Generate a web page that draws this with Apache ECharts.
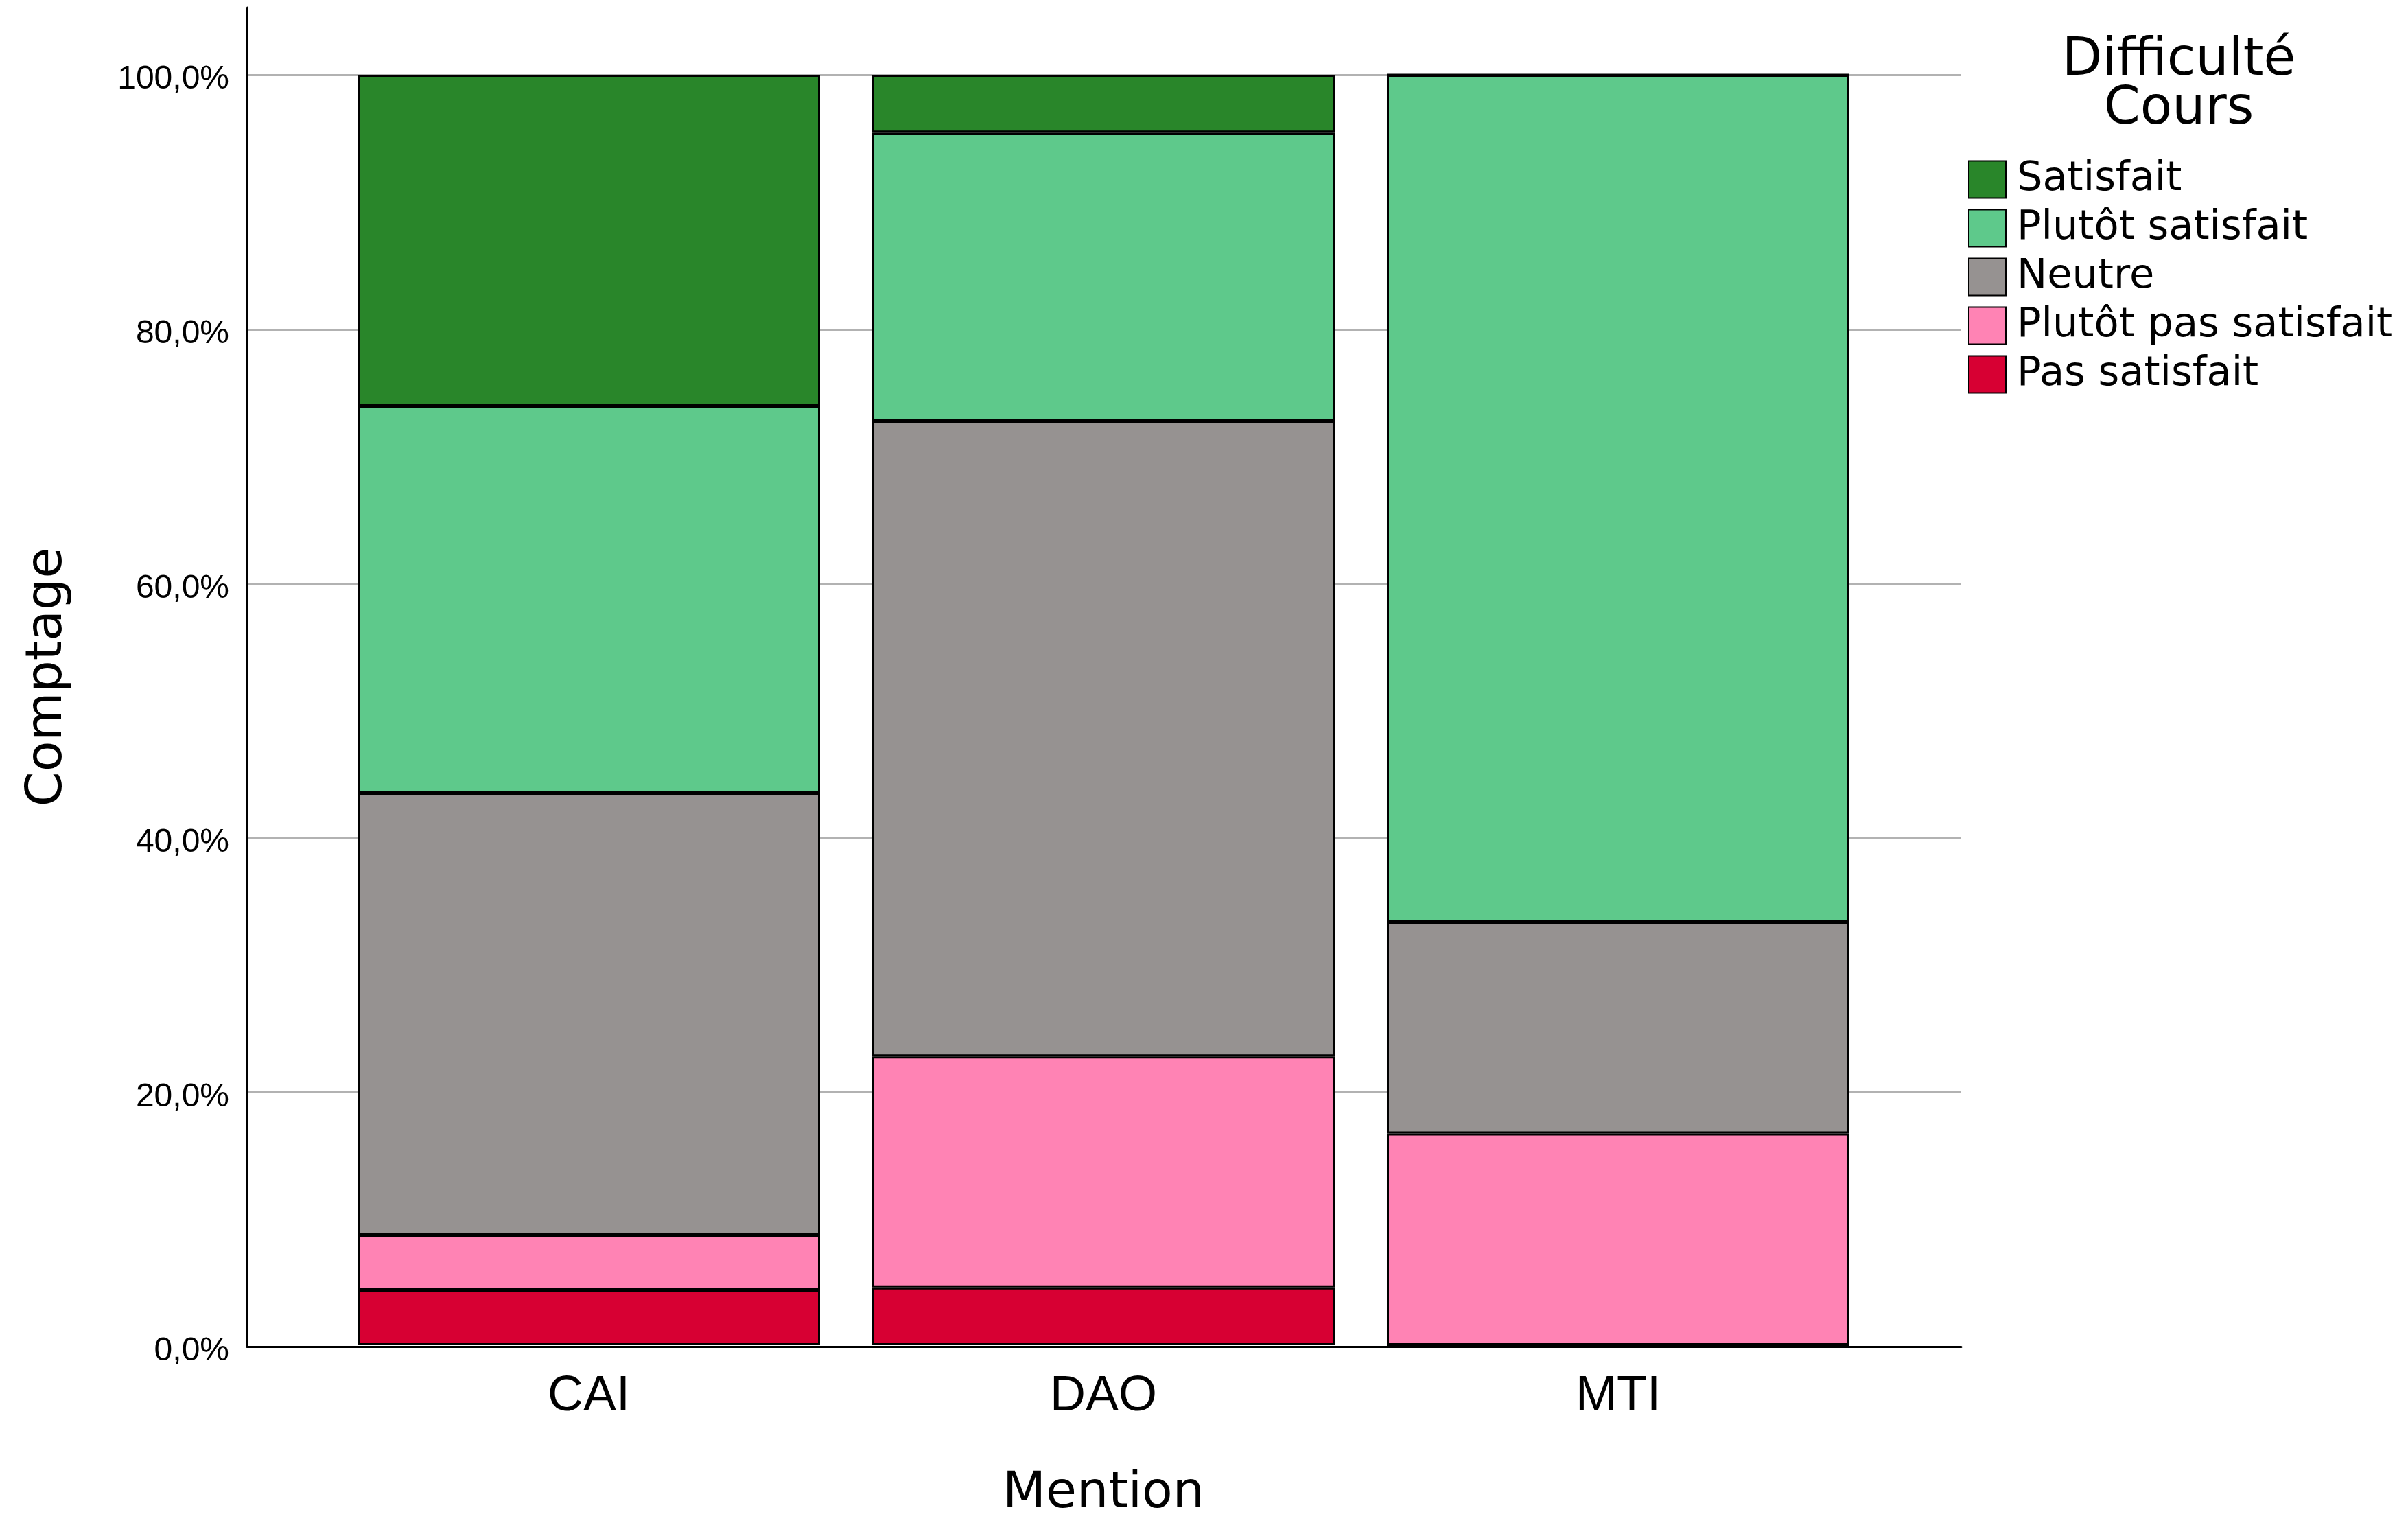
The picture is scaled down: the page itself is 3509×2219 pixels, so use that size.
<!DOCTYPE html>
<html>
<head>
<meta charset="utf-8">
<script src="https://cdn.jsdelivr.net/npm/echarts@6/dist/echarts.min.js"></script>
<style>
html,body{margin:0;padding:0;background:#fff;}
#chart{width:3509px;height:2219px;}
</style>
</head>
<body>
<div id="chart"></div>
<script>
// ---- data (percent of each Mention) ----
const categories = ['CAI', 'DAO', 'MTI'];
const seriesNames = ['Pas satisfait', 'Plutôt pas satisfait', 'Neutre', 'Plutôt satisfait', 'Satisfait'];
const pasSatisfait = [4.35, 4.55, 0];
const plutotPasSatisfait = [4.35, 18.18, 16.67];
const neutre = [34.78, 50.00, 16.67];
const plutotSatisfait = [30.43, 22.73, 66.66];
const satisfait = [26.09, 4.55, 0];
const yTicks = [0, 20, 40, 60, 80, 100];
const legendOrder = ['Satisfait', 'Plutôt satisfait', 'Neutre', 'Plutôt pas satisfait', 'Pas satisfait'];

const colors = ['#d70033', '#ff83b4', '#969291', '#5ec98b', '#29862a'];
const values = [pasSatisfait, plutotPasSatisfait, neutre, plutotSatisfait, satisfait];

const chart = echarts.init(document.getElementById('chart'), null, {renderer: 'canvas'});
const YMAX = 105.3;

const series = seriesNames.map((name, i) => ({
  name: name,
  type: 'bar',
  stack: 'total',
  xAxisIndex: 1,
  yAxisIndex: 1,
  barWidth: 674,
  data: values[i],
  itemStyle: {color: colors[i], borderColor: '#000', borderWidth: 3},
  emphasis: {disabled: true}
}));

chart.setOption({
  animation: false,
  backgroundColor: '#fff',
  title: {
    text: 'Difficulté\nCours',
    left: 3170,
    top: 49,
    textAlign: 'center',
    textStyle: {fontFamily: 'DejaVu Sans', fontSize: 76, fontWeight: 'normal', color: '#000', lineHeight: 71}
  },
  legend: {
    data: legendOrder,
    orient: 'vertical',
    left: 2868,
    top: 232,
    padding: 0,
    itemWidth: 54,
    itemHeight: 54,
    itemGap: 12,
    icon: 'rect',
    selectedMode: false,
    textStyle: {fontFamily: 'DejaVu Sans', fontSize: 59, color: '#000', lineHeight: 55, padding: [0, 0, 0, 11]}
  },
  grid: [
    {left: 360, right: 651, top: 11, bottom: 257, containLabel: false},
    {left: 483, right: 776, top: 11, bottom: 257, containLabel: false}
  ],
  xAxis: [
    {
      gridIndex: 0, type: 'value', min: 0, max: 1,
      axisLine: {show: true, lineStyle: {color: '#000', width: 3}},
      axisTick: {show: false}, axisLabel: {show: false}, splitLine: {show: false}
    },
    {
      gridIndex: 1, type: 'category', data: categories,
      axisLine: {show: false}, axisTick: {show: false},
      axisLabel: {margin: 39, fontFamily: 'Liberation Sans', fontSize: 72, color: '#000'},
      name: 'Mention', nameLocation: 'middle', nameGap: 181,
      nameTextStyle: {fontFamily: 'DejaVu Sans', fontSize: 73, color: '#000'}
    }
  ],
  yAxis: [
    {
      gridIndex: 0, type: 'value', min: 0, max: YMAX, interval: 20,
      axisLine: {show: true, lineStyle: {color: '#000', width: 3}},
      axisTick: {show: false},
      axisLabel: {
        margin: 26, showMaxLabel: false,
        fontFamily: 'Liberation Sans', fontSize: 48, color: '#000',
        verticalAlign: 'top', lineHeight: 14,
        formatter: v => yTicks.indexOf(Math.round(v)) >= 0 && Math.abs(v - Math.round(v)) < 1e-6 ? v.toFixed(1).replace('.', ',') + '%' : ''
      },
      splitLine: {show: true, showMaxLine: false, lineStyle: {color: '#b2b2b2', width: 3}},
      name: 'Comptage', nameLocation: 'middle', nameGap: 253,
      nameTextStyle: {fontFamily: 'DejaVu Sans', fontSize: 73, color: '#000'}
    },
    {
      gridIndex: 1, type: 'value', min: 0, max: YMAX,
      show: false, splitLine: {show: false}
    }
  ],
  series: series
});
</script>
</body>
</html>
